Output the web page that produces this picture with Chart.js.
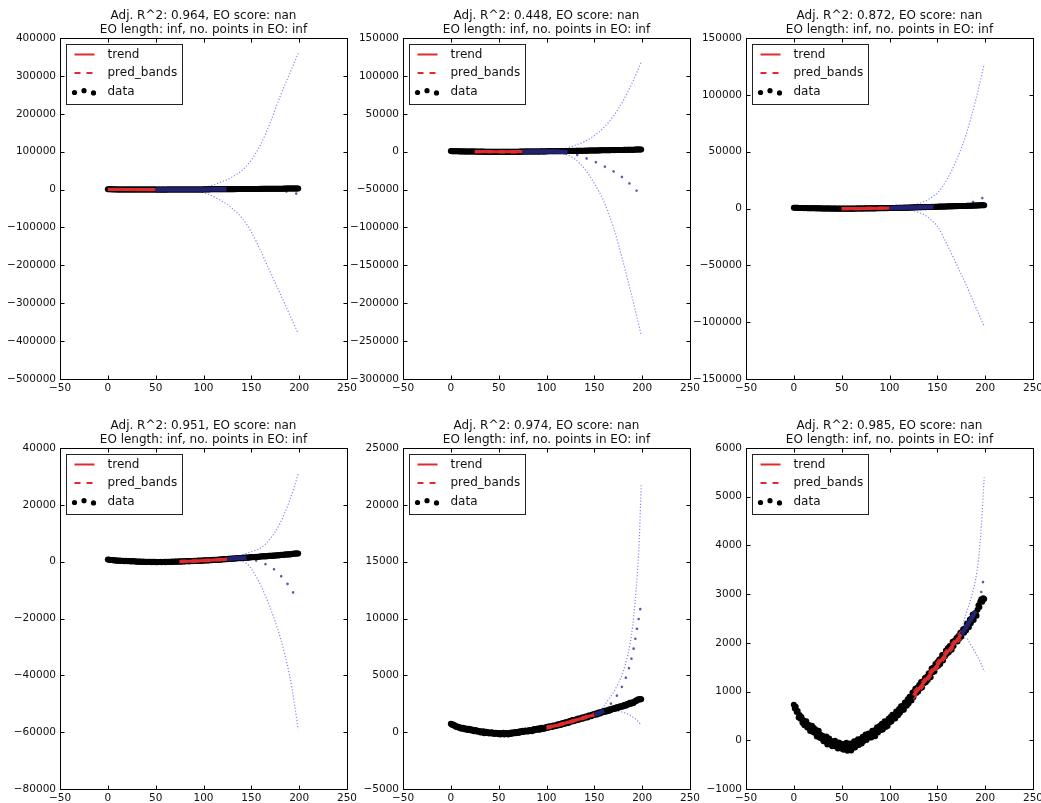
<!DOCTYPE html>
<html>
<head>
<meta charset="utf-8">
<title>Trend fits</title>
<script src="https://cdn.jsdelivr.net/npm/chart.js@4.4.1/dist/chart.umd.min.js"></script>
<style>
  html, body { margin: 0; padding: 0; background: #fff; overflow: hidden; }
  .panel { position: absolute; }
</style>
</head>
<body>
<div class="panel" style="left:0px;top:0px"><canvas id="c1" width="361" height="395"></canvas></div>
<div class="panel" style="left:343px;top:0px"><canvas id="c2" width="361" height="395"></canvas></div>
<div class="panel" style="left:686px;top:0px"><canvas id="c3" width="361" height="395"></canvas></div>
<div class="panel" style="left:0px;top:410px"><canvas id="c4" width="361" height="395"></canvas></div>
<div class="panel" style="left:343px;top:410px"><canvas id="c5" width="361" height="395"></canvas></div>
<div class="panel" style="left:686px;top:410px"><canvas id="c6" width="361" height="395"></canvas></div>
<script>
// measured series, one value per x = 0..199
const dataY = [
  730, 650, 690, 580, 600, 470, 520, 440, 480, 360,
  410, 310, 360, 390, 260, 270, 315, 190, 260, 300,
  170, 250, 150, 215, 80, 145, 195, 50, 115, 35,
  95, -20, 55, -25, 80, -85, 5, 35, -80, -15,
  -120, -30, -100, -10, -130, -65, -170, -45, -125, -65,
  -175, -75, -195, -95, -160, -50, -215, -85, -150, -65,
  -210, -70, -155, -20, -150, -35, -100, 20, -95, 10,
  25, -65, 75, -15, 55, 120, 5, 75, 140, 55,
  125, 55, 195, 105, 200, 85, 215, 270, 160, 235,
  300, 210, 340, 220, 315, 390, 275, 375, 295, 440,
  365, 480, 385, 525, 445, 515, 445, 590, 550, 515,
  640, 565, 700, 615, 710, 625, 775, 755, 710, 840,
  755, 895, 870, 815, 980, 885, 995, 1060, 970, 1080,
  1000, 1135, 1065, 1195, 1085, 1210, 1170, 1280, 1190, 1305,
  1240, 1375, 1350, 1295, 1475, 1395, 1495, 1410, 1565, 1505,
  1600, 1530, 1660, 1565, 1675, 1750, 1640, 1760, 1725, 1845,
  1775, 1895, 1805, 1935, 1910, 1860, 2025, 1935, 2045, 2040,
  2100, 2030, 2140, 2090, 2210, 2125, 2235, 2280, 2210, 2300,
  2255, 2395, 2380, 2320, 2480, 2405, 2505, 2580, 2470, 2600,
  2610, 2555, 2680, 2770, 2735, 2850, 2895, 2845, 2915, 2900
];

const xTicks = [-50, 250, 50];

// window 0..50
const p1FitX = [0, 10, 20, 30, 40, 50];
const p1Trend = [700, 390, 200, 60, -40, -100];
const p1PredHi = [1700, 1300, 1100, 1000, 1000, 1100];
const p1PredLo = [-300, -500, -700, -880, -1080, -1300];
const p1ExtX = [50, 75, 100, 110, 120, 124, 130, 140, 150, 160, 170, 180, 190, 199];
const p1ExtMid = [-100, 40, 400, 580, 800, 860, 1000, 1100, 1000, 500, -500, -2500, -6500, -12000];
const p1ExtHi = [1100, 2000, 5500, 12000, 21500, 25500, 33000, 50000, 78000, 120000, 178000, 245000, 305000, 360000];
const p1ExtLo = [-1300, -2500, -8000, -18000, -32000, -38000, -50000, -74000, -112000, -163000, -219000, -274000, -330000, -380000];

// window 25..75
const p2FitX = [25, 35, 45, 55, 65, 75];
const p2Trend = [130, 0, -80, -110, -70, 30];
const p2PredHi = [1400, 1200, 1100, 1100, 1150, 1300];
const p2PredLo = [-1140, -1200, -1260, -1320, -1290, -1240];
const p2ExtX = [75, 100, 110, 122, 130, 140, 150, 160, 170, 180, 190, 199];
const p2ExtMid = [30, 350, 300, -900, -3500, -8000, -13000, -19000, -26000, -34500, -46000, -58000];
const p2ExtHi = [1300, 900, 2000, 5000, 8500, 13500, 21000, 32000, 47000, 67000, 92000, 118000];
const p2ExtLo = [-1240, -300, -1500, -4500, -10000, -23000, -42000, -66000, -100000, -145000, -195000, -242000];

// window 50..100
const p3FitX = [50, 60, 70, 80, 90, 100];
const p3Trend = [-100, -110, -30, 90, 230, 400];
const p3PredHi = [700, 650, 720, 840, 990, 1200];
const p3PredLo = [-900, -870, -780, -660, -530, -400];
const p3ExtX = [100, 110, 120, 130, 140, 146, 150, 160, 170, 180, 190, 199];
const p3ExtMid = [400, 580, 800, 1050, 1300, 1450, 1600, 2000, 2700, 3800, 6500, 10000];
const p3ExtHi = [1200, 1500, 2300, 4200, 7700, 11000, 13500, 25500, 42500, 65000, 95000, 127000];
const p3ExtLo = [-400, -500, -1200, -3200, -7400, -12000, -15500, -31500, -49000, -67000, -86500, -104000];

// window 75..125
const p4FitX = [75, 85, 95, 105, 115, 125];
const p4Trend = [40, 150, 300, 480, 680, 920];
const p4PredHi = [400, 500, 640, 820, 1030, 1280];
const p4PredLo = [-320, -200, -40, 140, 330, 560];
const p4ExtX = [125, 135, 145, 150, 160, 170, 180, 190, 195, 199];
const p4ExtMid = [920, 1250, 1300, 1000, -300, -1700, -4700, -8800, -11500, -13000];
const p4ExtHi = [1280, 1800, 2900, 3500, 4900, 8200, 13500, 21500, 26500, 31000];
const p4ExtLo = [560, 500, -600, -2500, -8500, -16500, -26400, -40000, -50000, -59000];

// window 100..150
const p5FitX = [100, 110, 120, 130, 140, 150];
const p5Trend = [400, 580, 800, 1040, 1290, 1540];
const p5PredHi = [520, 690, 910, 1150, 1400, 1660];
const p5PredLo = [280, 470, 690, 930, 1180, 1420];
const p5ExtX = [150, 155, 160, 165, 170, 175, 180, 185, 190, 195, 197, 199];
const p5ExtMid = [1540, 1680, 1900, 2300, 2800, 3400, 4200, 5300, 6900, 9300, 10300, 11300];
const p5ExtHi = [1660, 1800, 2300, 2900, 3500, 4300, 5300, 6800, 9300, 14000, 17000, 21800];
const p5ExtLo = [1420, 1600, 1790, 1880, 1900, 1850, 1750, 1600, 1340, 1000, 820, 650];

// window 125..175
const p6FitX = [125, 135, 145, 155, 165, 175];
const p6Trend = [920, 1160, 1420, 1670, 1920, 2170];
const p6PredHi = [1000, 1230, 1490, 1740, 1990, 2250];
const p6PredLo = [840, 1090, 1350, 1600, 1850, 2090];
const p6ExtX = [175, 180, 185, 190, 193, 196, 199];
const p6ExtMid = [2170, 2320, 2480, 2650, 2820, 3050, 3400];
const p6ExtHi = [2250, 2600, 2900, 3300, 3700, 4400, 5400];
const p6ExtLo = [2090, 2100, 1960, 1790, 1680, 1560, 1400];

const panels = [
  { id: 'c1', r2: '0.964', y: [-500000, 400000, 100000], fitX: p1FitX, trend: p1Trend, hi: p1PredHi, lo: p1PredLo, extX: p1ExtX, mid: p1ExtMid, extHi: p1ExtHi, extLo: p1ExtLo, nearTo: 124 },
  { id: 'c2', r2: '0.448', y: [-300000, 150000, 50000], fitX: p2FitX, trend: p2Trend, hi: p2PredHi, lo: p2PredLo, extX: p2ExtX, mid: p2ExtMid, extHi: p2ExtHi, extLo: p2ExtLo, nearTo: 122 },
  { id: 'c3', r2: '0.872', y: [-150000, 150000, 50000], fitX: p3FitX, trend: p3Trend, hi: p3PredHi, lo: p3PredLo, extX: p3ExtX, mid: p3ExtMid, extHi: p3ExtHi, extLo: p3ExtLo, nearTo: 146 },
  { id: 'c4', r2: '0.951', y: [-80000, 40000, 20000], fitX: p4FitX, trend: p4Trend, hi: p4PredHi, lo: p4PredLo, extX: p4ExtX, mid: p4ExtMid, extHi: p4ExtHi, extLo: p4ExtLo, nearTo: 145 },
  { id: 'c5', r2: '0.974', y: [-5000, 25000, 5000], fitX: p5FitX, trend: p5Trend, hi: p5PredHi, lo: p5PredLo, extX: p5ExtX, mid: p5ExtMid, extHi: p5ExtHi, extLo: p5ExtLo, nearTo: 160 },
  { id: 'c6', r2: '0.985', y: [-1000, 6000, 1000], fitX: p6FitX, trend: p6Trend, hi: p6PredHi, lo: p6PredLo, extX: p6ExtX, mid: p6ExtMid, extHi: p6ExtHi, extLo: p6ExtLo, nearTo: 190 }
];

Chart.defaults.font.family = '"DejaVu Sans", sans-serif';
Chart.defaults.color = '#111';

const RED = 'rgb(222, 44, 44)';
const FONT = '12px "DejaVu Sans", sans-serif';

const toPoints = (xs, ys) => xs.map((x, i) => ({ x, y: ys[i] }));
const fmtTick = v => (v < 0 ? '\u2212' : '') + Math.abs(v);

// box around the plot with inward ticks on all four sides
const frameTicks = {
  id: 'frameTicks',
  afterDatasetsDraw(chart) {
    const { ctx, chartArea: a, scales } = chart;
    const L = Math.round(a.left) + 0.5, R = Math.round(a.right) + 0.5;
    const T = Math.round(a.top) + 0.5, B = Math.round(a.bottom) + 0.5;
    ctx.save();
    ctx.strokeStyle = '#000';
    ctx.lineWidth = 1;
    ctx.beginPath();
    for (const t of scales.x.ticks) {
      const px = Math.round(scales.x.getPixelForValue(t.value)) + 0.5;
      ctx.moveTo(px, B); ctx.lineTo(px, B - 4);
      ctx.moveTo(px, T); ctx.lineTo(px, T + 4);
    }
    for (const t of scales.y.ticks) {
      const py = Math.round(scales.y.getPixelForValue(t.value)) + 0.5;
      ctx.moveTo(L, py); ctx.lineTo(L + 4, py);
      ctx.moveTo(R, py); ctx.lineTo(R - 4, py);
    }
    ctx.stroke();
    ctx.strokeRect(L, T, R - L, B - T);
    ctx.restore();
  }
};

// two-line heading centred over the plot area
const panelTitle = {
  id: 'panelTitle',
  afterDraw(chart, args, opts) {
    const { ctx, chartArea: a } = chart;
    ctx.save();
    ctx.font = FONT;
    ctx.fillStyle = '#111';
    ctx.textAlign = 'center';
    ctx.textBaseline = 'middle';
    const cx = (a.left + a.right) / 2;
    opts.lines.forEach((line, i) => ctx.fillText(line, cx, a.top - 22 + i * 13.5));
    ctx.restore();
  }
};

// framed legend in the upper left corner, built from labelled datasets
const boxLegend = {
  id: 'boxLegend',
  afterDraw(chart) {
    const { ctx, chartArea: a } = chart;
    const items = chart.data.datasets.filter(d => d.label);
    const bx = Math.round(a.left) + 6.5, by = Math.round(a.top) + 6.5;
    ctx.save();
    ctx.fillStyle = '#fff';
    ctx.fillRect(bx, by, 116, 60);
    ctx.strokeStyle = '#222';
    ctx.lineWidth = 1;
    ctx.strokeRect(bx, by, 116, 60);
    ctx.font = FONT;
    ctx.textBaseline = 'middle';
    items.forEach((d, i) => {
      const ry = by + 10 + i * 18.5;
      if (d.showLine) {
        ctx.strokeStyle = d.borderColor;
        ctx.lineWidth = 2;
        ctx.setLineDash(d.borderDash || []);
        ctx.beginPath();
        ctx.moveTo(bx + 8, ry);
        ctx.lineTo(bx + 28, ry);
        ctx.stroke();
        ctx.setLineDash([]);
      } else {
        ctx.fillStyle = d.backgroundColor;
        for (const [dx, dy] of [[8, 1], [17.5, -0.8], [27, 1.4]]) {
          ctx.beginPath();
          ctx.arc(bx + dx, ry + dy, 2.6, 0, Math.PI * 2);
          ctx.fill();
        }
      }
      ctx.fillStyle = '#111';
      ctx.fillText(d.label, bx + 41, ry);
    });
    ctx.restore();
  }
};

function lineSet(points, extra) {
  return Object.assign({
    data: points,
    showLine: true,
    pointRadius: 0,
    fill: false,
    cubicInterpolationMode: 'monotone'
  }, extra);
}

function buildPanel(p) {
  const dataPts = dataY.map((y, i) => ({ x: i, y }));
  const ext = toPoints(p.extX, p.mid);
  const datasets = [
    // extrapolated trend while it still runs along the data
    lineSet(ext.filter(pt => pt.x <= p.nearTo), { borderColor: 'rgb(34, 34, 112)', borderWidth: 4.5 }),
    lineSet(toPoints(p.fitX, p.trend), { label: 'trend', borderColor: RED, borderWidth: 3.2 }),
    lineSet(toPoints(p.fitX, p.hi), { label: 'pred_bands', borderColor: RED, borderWidth: 1.5, borderDash: [6, 6] }),
    lineSet(toPoints(p.fitX, p.lo), { borderColor: RED, borderWidth: 1.5, borderDash: [6, 6] }),
    {
      label: 'data',
      data: dataPts,
      showLine: false,
      pointRadius: 3,
      pointBorderWidth: 0,
      backgroundColor: '#000',
      borderColor: '#000'
    },
    lineSet(toPoints(p.extX, p.extHi), { borderColor: 'rgba(95, 95, 245, 0.75)', borderWidth: 1.2, borderDash: [1.2, 1.9] }),
    lineSet(toPoints(p.extX, p.extLo), { borderColor: 'rgba(95, 95, 245, 0.75)', borderWidth: 1.2, borderDash: [1.2, 1.9] }),
    lineSet(ext.filter(pt => pt.x >= p.nearTo), { borderColor: 'rgba(60, 60, 165, 0.85)', borderWidth: 2.6, borderDash: [0.01, 10], borderCapStyle: 'round' })
  ];

  return new Chart(document.getElementById(p.id), {
    type: 'scatter',
    data: { datasets },
    plugins: [frameTicks, panelTitle, boxLegend],
    options: {
      responsive: false,
      animation: false,
      devicePixelRatio: 1,
      events: [],
      layout: { padding: { top: 38, right: 14, left: 0, bottom: 0 } },
      plugins: {
        legend: { display: false },
        tooltip: { enabled: false },
        panelTitle: {
          lines: [
            `Adj. R^2: ${p.r2}, EO score: nan`,
            'EO length: inf, no. points in EO: inf'
          ]
        }
      },
      scales: {
        x: {
          type: 'linear',
          min: xTicks[0],
          max: xTicks[1],
          grid: { display: false, drawTicks: false },
          border: { display: false },
          ticks: {
            stepSize: xTicks[2],
            autoSkip: false,
            maxRotation: 0,
            padding: 3,
            color: '#111',
            font: { size: 10.5 },
            callback: fmtTick
          },
          afterFit(scale) { scale.height = 16; }
        },
        y: {
          type: 'linear',
          min: p.y[0],
          max: p.y[1],
          grid: { display: false, drawTicks: false },
          border: { display: false },
          ticks: {
            stepSize: p.y[2],
            autoSkip: false,
            padding: 4,
            color: '#111',
            font: { size: 10.5 },
            callback: fmtTick
          },
          afterFit(scale) { scale.width = 60; }
        }
      }
    }
  });
}

panels.forEach(buildPanel);
</script>
</body>
</html>
